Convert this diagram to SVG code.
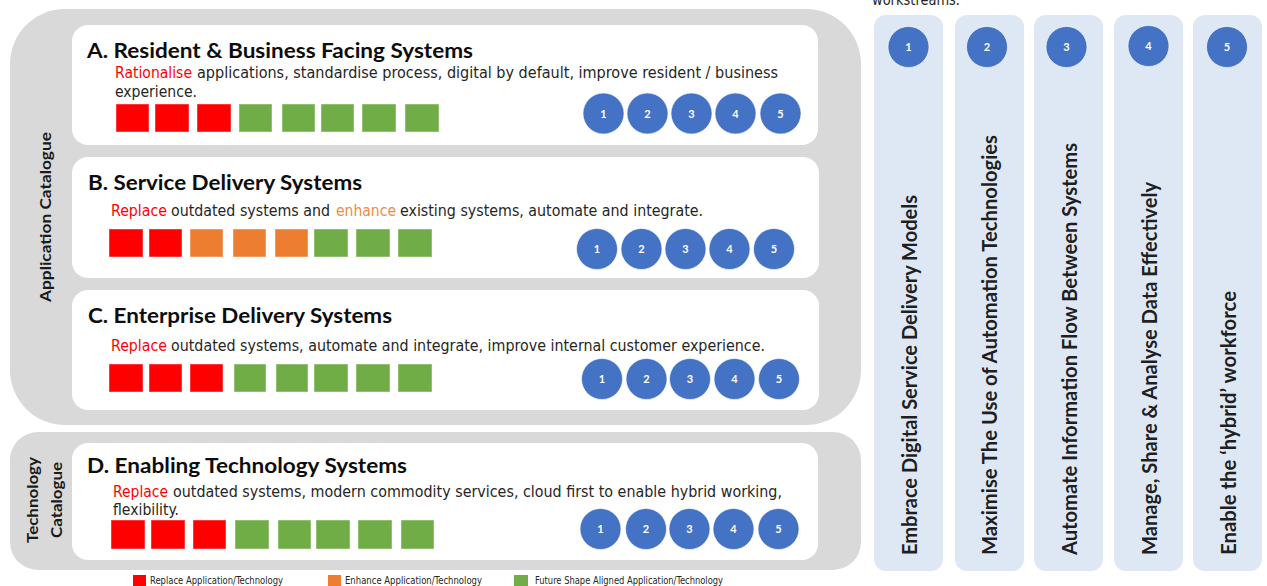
<svg xmlns="http://www.w3.org/2000/svg" width="1267" height="586" viewBox="0 0 1267 586">
  <style>
    .catalogue { fill: #d9d9d9; }
    .card { fill: #ffffff; }
    .lane { fill: #dee8f5; }
    .title { font-family: Lato, "Open Sans", sans-serif; font-weight: 700; font-size: 20px; fill: #0d0d0d; }
    .body { font-family: "DejaVu Sans Condensed", "DejaVu Sans", Verdana, sans-serif; font-stretch: condensed; font-size: 15.5px; fill: #262626; }
    .side { font-family: Lato, "Open Sans", sans-serif; font-weight: 700; font-size: 16px; fill: #1a1a1a; }
    .lane-label { font-family: Lato, "Open Sans", sans-serif; font-weight: 700; font-size: 20px; fill: #1f1f1f; }
    .legend { font-family: "DejaVu Sans Condensed", "DejaVu Sans", Verdana, sans-serif; font-stretch: condensed; font-size: 10px; fill: #262626; }
    .red { fill: #ff0000; }
    .orange { fill: #ed7d31; }
    .green { fill: #70ad47; }
    .sq { stroke: #ffffff; stroke-opacity: 0.45; stroke-width: 1; }
    .dot { fill: #4472c4; stroke: #ffffff; stroke-opacity: 0.6; stroke-width: 1; }
    .num { font-family: Lato, "Open Sans", sans-serif; font-weight: 700; font-size: 11px; fill: #ffffff; text-anchor: middle; }
    .body.t-red { fill: #ff0000; }
    .body.t-orange { fill: #f08a45; }
  </style>

  <!-- caption line running off the top edge -->
  <text class="body" x="872" y="5" font-size="14" textLength="88" lengthAdjust="spacingAndGlyphs">workstreams.</text>

  <!-- catalogue frames -->
  <g id="application-catalogue">
    <rect class="catalogue" x="10" y="9" width="851" height="416" rx="55"/>
    <text class="side" transform="translate(51,302) rotate(-90)" textLength="170" lengthAdjust="spacingAndGlyphs">Application Catalogue</text>
  </g>
  <g id="technology-catalogue">
    <rect class="catalogue" x="10" y="432" width="851" height="138" rx="28"/>
    <text class="side" transform="translate(38,543) rotate(-90)" textLength="86" lengthAdjust="spacingAndGlyphs">Technology</text>
    <text class="side" transform="translate(62,538) rotate(-90)" textLength="76" lengthAdjust="spacingAndGlyphs">Catalogue</text>
  </g>

  <!-- A -->
  <g id="system-a">
    <rect class="card" x="72" y="25" width="746" height="120" rx="16"/>
    <text class="title" x="87" y="58" textLength="386" lengthAdjust="spacingAndGlyphs">A. Resident &amp; Business Facing Systems</text>
    <text class="body t-red" x="115" y="78" textLength="77" lengthAdjust="spacingAndGlyphs">Rationalise</text>
    <text class="body" x="197" y="78" textLength="581" lengthAdjust="spacingAndGlyphs">applications,  standardise process, digital by default, improve resident / business</text>
    <text class="body" x="115" y="97" textLength="82" lengthAdjust="spacingAndGlyphs">experience.</text>
    <rect class="sq red" x="116" y="104" width="33" height="28"/>
    <rect class="sq red" x="155" y="104" width="34" height="28"/>
    <rect class="sq red" x="197" y="104" width="34" height="28"/>
    <rect class="sq green" x="239" y="104" width="33" height="28"/>
    <rect class="sq green" x="282" y="104" width="33" height="28"/>
    <rect class="sq green" x="321" y="104" width="33" height="28"/>
    <rect class="sq green" x="362" y="104" width="34" height="28"/>
    <rect class="sq green" x="405" y="104" width="34" height="28"/>
    <circle class="dot" cx="603.5" cy="113.5" r="20.5"/><text class="num" x="603.5" y="117.5">1</text>
    <circle class="dot" cx="647.5" cy="113.5" r="20.5"/><text class="num" x="647.5" y="117.5">2</text>
    <circle class="dot" cx="691.5" cy="113.5" r="20.5"/><text class="num" x="691.5" y="117.5">3</text>
    <circle class="dot" cx="735.5" cy="113.5" r="20.5"/><text class="num" x="735.5" y="117.5">4</text>
    <circle class="dot" cx="780.5" cy="113.5" r="20.5"/><text class="num" x="780.5" y="117.5">5</text>
  </g>

  <!-- B -->
  <g id="system-b">
    <rect class="card" x="72" y="157" width="747" height="121" rx="16"/>
    <text class="title" x="88" y="190" textLength="274" lengthAdjust="spacingAndGlyphs">B. Service Delivery Systems</text>
    <text class="body t-red" x="111" y="216" textLength="56" lengthAdjust="spacingAndGlyphs">Replace</text>
    <text class="body" x="171" y="216" textLength="159" lengthAdjust="spacingAndGlyphs">outdated systems and</text>
    <text class="body t-orange" x="336" y="216" textLength="60" lengthAdjust="spacingAndGlyphs">enhance</text>
    <text class="body" x="400" y="216" textLength="303" lengthAdjust="spacingAndGlyphs">existing systems, automate and integrate.</text>
    <rect class="sq red" x="109" y="229" width="34" height="28"/>
    <rect class="sq red" x="149" y="229" width="33" height="28"/>
    <rect class="sq orange" x="190" y="229" width="33" height="28"/>
    <rect class="sq orange" x="233" y="229" width="33" height="28"/>
    <rect class="sq orange" x="275" y="229" width="33" height="28"/>
    <rect class="sq green" x="314" y="229" width="34" height="28"/>
    <rect class="sq green" x="356" y="229" width="34" height="28"/>
    <rect class="sq green" x="398" y="229" width="34" height="28"/>
    <circle class="dot" cx="597" cy="249" r="20.5"/><text class="num" x="597" y="253">1</text>
    <circle class="dot" cx="641.5" cy="249" r="20.5"/><text class="num" x="641.5" y="253">2</text>
    <circle class="dot" cx="685.5" cy="249" r="20.5"/><text class="num" x="685.5" y="253">3</text>
    <circle class="dot" cx="729.5" cy="249" r="20.5"/><text class="num" x="729.5" y="253">4</text>
    <circle class="dot" cx="774" cy="249" r="20.5"/><text class="num" x="774" y="253">5</text>
  </g>

  <!-- C -->
  <g id="system-c">
    <rect class="card" x="72" y="290" width="747" height="120" rx="16"/>
    <text class="title" x="88" y="323" textLength="304" lengthAdjust="spacingAndGlyphs">C. Enterprise Delivery Systems</text>
    <text class="body t-red" x="111" y="351" textLength="56" lengthAdjust="spacingAndGlyphs">Replace</text>
    <text class="body" x="171" y="351" textLength="594" lengthAdjust="spacingAndGlyphs">outdated systems, automate and integrate, improve internal customer experience.</text>
    <rect class="sq red" x="109" y="364" width="34" height="28"/>
    <rect class="sq red" x="149" y="364" width="33" height="28"/>
    <rect class="sq red" x="190" y="364" width="33" height="28"/>
    <rect class="sq green" x="234" y="364" width="32" height="28"/>
    <rect class="sq green" x="276" y="364" width="32" height="28"/>
    <rect class="sq green" x="314" y="364" width="34" height="28"/>
    <rect class="sq green" x="356" y="364" width="34" height="28"/>
    <rect class="sq green" x="398" y="364" width="34" height="28"/>
    <circle class="dot" cx="602" cy="379" r="20.5"/><text class="num" x="602" y="383">1</text>
    <circle class="dot" cx="646.5" cy="379" r="20.5"/><text class="num" x="646.5" y="383">2</text>
    <circle class="dot" cx="690" cy="379" r="20.5"/><text class="num" x="690" y="383">3</text>
    <circle class="dot" cx="734.5" cy="379" r="20.5"/><text class="num" x="734.5" y="383">4</text>
    <circle class="dot" cx="779" cy="379" r="20.5"/><text class="num" x="779" y="383">5</text>
  </g>

  <!-- D -->
  <g id="system-d">
    <rect class="card" x="72" y="443" width="746" height="117" rx="16"/>
    <text class="title" x="87" y="473" textLength="320" lengthAdjust="spacingAndGlyphs">D. Enabling Technology Systems</text>
    <text class="body t-red" x="113" y="497" textLength="55" lengthAdjust="spacingAndGlyphs">Replace</text>
    <text class="body" x="173" y="497" textLength="609" lengthAdjust="spacingAndGlyphs">outdated systems, modern commodity services, cloud first to enable hybrid working,</text>
    <text class="body" x="113" y="515" textLength="66" lengthAdjust="spacingAndGlyphs">flexibility.</text>
    <rect class="sq red" x="111" y="520" width="34" height="29"/>
    <rect class="sq red" x="151" y="520" width="34" height="29"/>
    <rect class="sq red" x="193" y="520" width="33" height="29"/>
    <rect class="sq green" x="235" y="520" width="34" height="29"/>
    <rect class="sq green" x="278" y="520" width="33" height="29"/>
    <rect class="sq green" x="316" y="520" width="34" height="29"/>
    <rect class="sq green" x="358" y="520" width="34" height="29"/>
    <rect class="sq green" x="401" y="520" width="33" height="29"/>
    <circle class="dot" cx="600.5" cy="529" r="20.5"/><text class="num" x="600.5" y="533">1</text>
    <circle class="dot" cx="646" cy="529" r="20.5"/><text class="num" x="646" y="533">2</text>
    <circle class="dot" cx="689.5" cy="529" r="20.5"/><text class="num" x="689.5" y="533">3</text>
    <circle class="dot" cx="733.5" cy="529" r="20.5"/><text class="num" x="733.5" y="533">4</text>
    <circle class="dot" cx="778.5" cy="529" r="20.5"/><text class="num" x="778.5" y="533">5</text>
  </g>

  <!-- workstream lanes -->
  <g id="workstream-1">
    <rect class="lane" x="874" y="15" width="69" height="556" rx="12"/>
    <circle class="dot" cx="908.5" cy="47" r="20.5"/><text class="num" x="908.5" y="51">1</text>
    <text class="lane-label" transform="translate(917,555) rotate(-90)" textLength="360" lengthAdjust="spacingAndGlyphs">Embrace Digital Service Delivery Models</text>
  </g>
  <g id="workstream-2">
    <rect class="lane" x="955" y="15" width="69" height="556" rx="12"/>
    <circle class="dot" cx="987" cy="47" r="20.5"/><text class="num" x="987" y="51">2</text>
    <text class="lane-label" transform="translate(997,555) rotate(-90)" textLength="420" lengthAdjust="spacingAndGlyphs">Maximise The Use of Automation Technologies</text>
  </g>
  <g id="workstream-3">
    <rect class="lane" x="1034" y="15" width="69" height="556" rx="12"/>
    <circle class="dot" cx="1066.5" cy="47" r="20.5"/><text class="num" x="1066.5" y="51">3</text>
    <text class="lane-label" transform="translate(1077,555) rotate(-90)" textLength="412" lengthAdjust="spacingAndGlyphs">Automate Information Flow Between Systems</text>
  </g>
  <g id="workstream-4">
    <rect class="lane" x="1114" y="15" width="69" height="556" rx="12"/>
    <circle class="dot" cx="1148.5" cy="46" r="20.5"/><text class="num" x="1148.5" y="50">4</text>
    <text class="lane-label" transform="translate(1157,555) rotate(-90)" textLength="373" lengthAdjust="spacingAndGlyphs">Manage, Share &amp; Analyse Data Effectively</text>
  </g>
  <g id="workstream-5">
    <rect class="lane" x="1193" y="15" width="69" height="556" rx="12"/>
    <circle class="dot" cx="1227" cy="47" r="20.5"/><text class="num" x="1227" y="51">5</text>
    <text class="lane-label" transform="translate(1236,555) rotate(-90)" textLength="264" lengthAdjust="spacingAndGlyphs">Enable the ‘hybrid’ workforce</text>
  </g>

  <!-- key -->
  <g id="legend">
    <rect class="red" x="133" y="575" width="13" height="11"/>
    <text class="legend" x="150" y="584" textLength="133" lengthAdjust="spacingAndGlyphs">Replace Application/Technology</text>
    <rect class="orange" x="328" y="575" width="13" height="11"/>
    <text class="legend" x="345" y="584" textLength="137" lengthAdjust="spacingAndGlyphs">Enhance Application/Technology</text>
    <rect class="green" x="514" y="575" width="14" height="11"/>
    <text class="legend" x="535" y="584" textLength="188" lengthAdjust="spacingAndGlyphs">Future Shape Aligned Application/Technology</text>
  </g>
</svg>
